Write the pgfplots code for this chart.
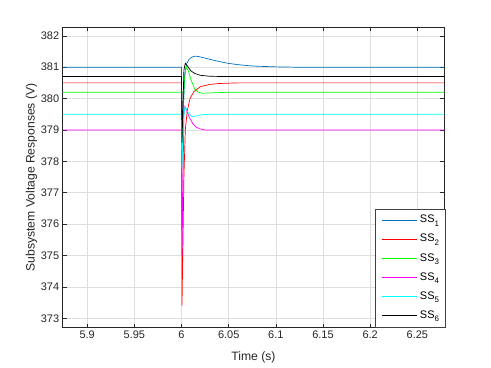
\documentclass[border=0pt]{standalone}
\usepackage{pgfplots}
\pgfplotsset{compat=1.18}
\usepackage{fontspec}
\setmainfont{Liberation Sans}

\definecolor{mblue}{rgb}{0,0.447,0.741}
\definecolor{mred}{rgb}{1,0,0}
\definecolor{mgreen}{rgb}{0,1,0}
\definecolor{mmag}{rgb}{1,0,1}
\definecolor{mcyan}{rgb}{0,1,1}
\definecolor{axgray}{rgb}{0.15,0.15,0.15}
\newcommand{\subsys}[1]{\hspace{3bp}SS\raisebox{-0.6ex}{\fontsize{8}{9}\selectfont #1}}

\begin{document}
\begin{tikzpicture}
\path[use as bounding box, fill=white] (-62.7bp,-40.3bp) rectangle (428.3bp,327.7bp);
\begin{axis}[
    at={(0,0)}, anchor=south west,
    scale only axis,
    width=381.6bp, height=300.7bp,
    xmin=5.874, xmax=6.2786,
    ymin=372.7, ymax=382.28,
    xtick={5.9,5.95,6,6.05,6.1,6.15,6.2,6.25},
    ytick={373,374,375,376,377,378,379,380,381,382},
    tick align=inside,
    tick pos=both,
    major tick length=4bp,
    axis line style={axgray, line width=0.5bp},
    every tick/.style={axgray, line width=0.5bp},
    tick label style={font=\fontsize{11}{13}\selectfont, text=axgray},
    /pgf/number format/assume math mode=true,
    grid=major,
    major grid style={black!13, line width=0.5bp},
    xlabel={Time (s)},
    ylabel={Subsystem Voltage Responses (V)},
    label style={font=\fontsize{12.2}{14}\selectfont, text=axgray},
    xlabel style={at={(axis description cs:0.5,-0.1)}, anchor=center},
    ylabel style={at={(axis description cs:-0.082,0.5)}, anchor=center},
    legend cell align=left,
    legend style={at={(1.0026,0.0013)}, anchor=south east,
        font=\fontsize{11}{13}\selectfont, draw=black!75, line width=0.5bp,
        row sep=8.06bp, column sep=0bp, inner xsep=6bp, inner ysep=5.85bp,
        nodes={inner sep=0bp, text height=8bp, text depth=3bp}},
    legend image code/.code={\draw[#1] (0bp,0bp) -- (34.7bp,0bp);},
    every axis plot/.append style={line width=0.7bp},
]

% SS1
\addplot[mblue] coordinates {
 (5.874,381) (6.0,381) (6.0005,378.0) (6.002,379.8) (6.0035,380.8) (6.0055,381.12)
 (6.008,381.25) (6.011,381.32) (6.014,381.35) (6.018,381.34) (6.022,381.31)
 (6.03,381.25) (6.04,381.18) (6.05,381.12) (6.06,381.08) (6.07,381.05)
 (6.08,381.03) (6.09,381.02) (6.1,381.01) (6.12,381.0) (6.2786,381.0)
};
\addlegendentry{\subsys{1}}

% SS2
\addplot[mred] coordinates {
 (5.874,380.5) (6.0,380.5) (6.0005,373.4) (6.0025,377.5) (6.004,379.0)
 (6.006,379.6) (6.009,380.0) (6.013,380.22) (6.02,380.38) (6.03,380.45)
 (6.04,380.48) (6.06,380.5) (6.2786,380.5)
};
\addlegendentry{\subsys{2}}

% SS3
\addplot[mgreen] coordinates {
 (5.874,380.2) (6.0,380.2) (6.0005,378.4) (6.003,380.6) (6.005,381.0)
 (6.007,380.9) (6.01,380.6) (6.014,380.3) (6.018,380.2) (6.022,380.17)
 (6.03,380.18) (6.05,380.2) (6.2786,380.2)
};
\addlegendentry{\subsys{3}}

% SS4
\addplot[mmag] coordinates {
 (5.874,379) (6.0,379) (6.0005,375.0) (6.0025,379.5) (6.0035,379.75)
 (6.005,379.65) (6.008,379.42) (6.012,379.2) (6.016,379.08) (6.02,379.03)
 (6.025,379.0) (6.2786,379.0)
};
\addlegendentry{\subsys{4}}

% SS5
\addplot[mcyan] coordinates {
 (5.874,379.5) (6.0,379.5) (6.0005,377.8) (6.002,379.3) (6.0035,379.72)
 (6.005,379.68) (6.008,379.5) (6.011,379.43) (6.015,379.44) (6.02,379.48)
 (6.03,379.5) (6.2786,379.5)
};
\addlegendentry{\subsys{5}}

% SS6
\addplot[black] coordinates {
 (5.874,380.7) (6.0,380.7) (6.0005,378.6) (6.0025,380.9) (6.004,381.13)
 (6.006,381.05) (6.01,380.88) (6.014,380.8) (6.02,380.74) (6.03,380.71)
 (6.05,380.7) (6.2786,380.7)
};
\addlegendentry{\subsys{6}}

\end{axis}
\end{tikzpicture}
\end{document}
